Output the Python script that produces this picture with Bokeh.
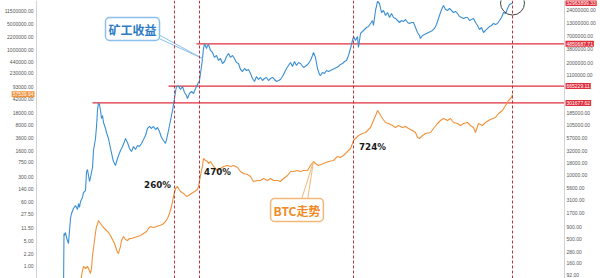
from bokeh.plotting import figure
from bokeh.models import (Range1d, LogScale, LogAxis, FixedTicker,
                          PrintfTickFormatter, Span, Label)
from bokeh.embed import file_html
from bokeh.resources import INLINE

# ---- data -------------------------------------------------------------
# Daily miner revenue (USD), time in decimal years
rev_t = [2010.614, 2010.625, 2010.636, 2010.659, 2010.682, 2010.727, 2010.773, 2010.795,
         2010.841, 2010.886, 2010.932, 2010.955, 2010.977, 2011.0, 2011.045, 2011.068,
         2011.114, 2011.136, 2011.159, 2011.182, 2011.205, 2011.227, 2011.273, 2011.295,
         2011.341, 2011.364, 2011.386, 2011.409, 2011.432, 2011.455, 2011.477, 2011.5,
         2011.523, 2011.568, 2011.591, 2011.636, 2011.682, 2011.727, 2011.75, 2011.795,
         2011.841, 2011.864, 2011.909, 2011.955, 2012.0, 2012.023, 2012.068, 2012.114,
         2012.159, 2012.205, 2012.25, 2012.295, 2012.341, 2012.386, 2012.432, 2012.477,
         2012.523, 2012.568, 2012.614, 2012.659, 2012.705, 2012.75, 2012.795, 2012.841,
         2012.886, 2012.932, 2012.955, 2013.0, 2013.045, 2013.091, 2013.136, 2013.159,
         2013.182, 2013.227, 2013.273, 2013.318, 2013.364, 2013.409, 2013.432, 2013.477,
         2013.523, 2013.568, 2013.614, 2013.659, 2013.705, 2013.75, 2013.773, 2013.795,
         2013.818, 2013.864, 2013.886, 2013.909, 2013.955, 2014.0, 2014.045, 2014.091,
         2014.136, 2014.182, 2014.227, 2014.273, 2014.318, 2014.364, 2014.409, 2014.455,
         2014.5, 2014.545, 2014.591, 2014.636, 2014.682, 2014.727, 2014.773, 2014.818,
         2014.864, 2014.909, 2014.955, 2015.0, 2015.045, 2015.091, 2015.136, 2015.182,
         2015.227, 2015.273, 2015.318, 2015.364, 2015.409, 2015.455, 2015.5, 2015.545,
         2015.591, 2015.636, 2015.682, 2015.727, 2015.773, 2015.818, 2015.864, 2015.909,
         2015.955, 2016.0, 2016.068, 2016.136, 2016.182, 2016.227, 2016.273, 2016.295,
         2016.341, 2016.386, 2016.432, 2016.455, 2016.5, 2016.545, 2016.591, 2016.636,
         2016.682, 2016.727, 2016.773, 2016.818, 2016.864, 2016.909, 2016.955, 2017.0,
         2017.045, 2017.091, 2017.136, 2017.182, 2017.205, 2017.25, 2017.295, 2017.318,
         2017.364, 2017.409, 2017.455, 2017.5, 2017.545, 2017.591, 2017.636, 2017.659,
         2017.705, 2017.75, 2017.795, 2017.841, 2017.886, 2017.932, 2017.977, 2018.023,
         2018.068, 2018.114, 2018.159, 2018.205, 2018.25, 2018.295, 2018.341, 2018.386,
         2018.432, 2018.477, 2018.523, 2018.568, 2018.614, 2018.659, 2018.705, 2018.727,
         2018.773, 2018.818, 2018.864, 2018.909, 2018.955, 2019.0, 2019.045, 2019.091,
         2019.136, 2019.182, 2019.227, 2019.25, 2019.295, 2019.341, 2019.386, 2019.432,
         2019.477, 2019.523, 2019.568, 2019.614, 2019.659, 2019.705, 2019.75, 2019.795,
         2019.841, 2019.886, 2019.932, 2019.977, 2020.023, 2020.068, 2020.114, 2020.159,
         2020.205, 2020.25, 2020.295, 2020.341, 2020.386, 2020.432, 2020.477, 2020.523,
         2020.568, 2020.614, 2020.659, 2020.705, 2020.75, 2020.818]
rev_usd = [45, 653, 594, 684, 541, 408, 1321, 1671,
           2113, 2432, 2018, 2673, 2218, 2938, 3548, 4487,
           4920, 11480, 13210, 9977, 7516, 9078, 14520, 32280,
           56750, 99770, 211300, 301677.62, 280500, 211300, 145200, 167100,
           120200, 90780, 75160, 56750, 35480, 23230, 19230, 15960,
           22180, 25530, 32280, 38900, 49200, 56750, 46990, 35480,
           30760, 38900, 33810, 40830, 38900, 44870, 54080, 65310,
           90780, 99770, 90780, 99770, 86500, 95060, 78890, 59430,
           51640, 44870, 54080, 82600, 132100, 211300, 371500, 516400,
           653100, 665229.11, 567500, 653100, 492000, 427600, 371500, 469900,
           516400, 469900, 594300, 717800, 865000, 1671000, 2432000, 3890000,
           4850687.71, 3890000, 4487000, 4699000, 3548000, 3228000, 2553000, 2805000,
           2218000, 2432000, 1923000, 2113000, 2673000, 3076000, 2553000, 2805000,
           2432000, 2018000, 1923000, 1452000, 1321000, 1521000, 1384000, 1452000,
           1202000, 950600, 826000, 1045000, 907800, 997700, 865000, 950600,
           997700, 865000, 950600, 997700, 907800, 826000, 865000, 907800,
           1045000, 1262000, 1521000, 1750000, 2018000, 1671000, 2113000, 1750000,
           2018000, 1923000, 1596000, 1750000, 1923000, 2218000, 2805000, 3228000,
           2553000, 1521000, 1148000, 1094000, 1262000, 1202000, 1384000, 1321000,
           1384000, 1452000, 1521000, 1596000, 1671000, 1837000, 1923000, 2113000,
           2218000, 2805000, 3890000, 5675000, 6839000, 5675000, 6839000, 4083000,
           7889000, 8650000, 9506000, 10450000, 10940000, 12620000, 14520000, 11480000,
           23230000, 35480000, 32280000, 21130000, 23230000, 18370000, 21130000, 16710000,
           20180000, 16710000, 15960000, 14520000, 13210000, 14520000, 13840000, 15210000,
           13210000, 12620000, 13210000, 13210000, 10450000, 8260000, 7178000, 6223000,
           7178000, 7516000, 7889000, 8260000, 8650000, 9078000, 9977000, 12020000,
           15960000, 21130000, 26730000, 29380000, 24320000, 23230000, 25530000, 23230000,
           21130000, 22180000, 20180000, 17500000, 16710000, 15960000, 16710000, 16710000,
           14520000, 15210000, 15960000, 13210000, 11480000, 9506000, 10450000, 8260000,
           9078000, 9977000, 10940000, 11480000, 12620000, 12020000, 12620000, 14520000,
           16710000, 21130000, 20180000, 25530000, 30760000, 32963899.33]

# BTC price (USD), time in decimal years
btc_t = [2011.0, 2011.023, 2011.068, 2011.114, 2011.159, 2011.182, 2011.227, 2011.25,
         2011.273, 2011.295, 2011.341, 2011.364, 2011.386, 2011.409, 2011.455, 2011.5,
         2011.545, 2011.591, 2011.636, 2011.682, 2011.727, 2011.773, 2011.818, 2011.841,
         2011.864, 2011.909, 2011.932, 2011.977, 2012.023, 2012.068, 2012.114, 2012.159,
         2012.227, 2012.295, 2012.364, 2012.432, 2012.5, 2012.545, 2012.591, 2012.659,
         2012.727, 2012.795, 2012.864, 2012.932, 2012.977, 2013.023, 2013.068, 2013.091,
         2013.114, 2013.159, 2013.205, 2013.227, 2013.273, 2013.341, 2013.409, 2013.455,
         2013.523, 2013.591, 2013.659, 2013.682, 2013.727, 2013.773, 2013.795, 2013.841,
         2013.886, 2013.909, 2013.955, 2014.023, 2014.114, 2014.182, 2014.25, 2014.341,
         2014.409, 2014.477, 2014.568, 2014.636, 2014.705, 2014.795, 2014.864, 2014.932,
         2015.023, 2015.091, 2015.159, 2015.25, 2015.318, 2015.386, 2015.477, 2015.545,
         2015.614, 2015.705, 2015.773, 2015.841, 2015.932, 2016.0, 2016.068, 2016.159,
         2016.227, 2016.295, 2016.341, 2016.409, 2016.523, 2016.636, 2016.75, 2016.841,
         2016.909, 2016.977, 2017.068, 2017.136, 2017.182, 2017.205, 2017.25, 2017.318,
         2017.409, 2017.477, 2017.591, 2017.659, 2017.727, 2017.75, 2017.795, 2017.864,
         2017.932, 2018.0, 2018.091, 2018.159, 2018.227, 2018.318, 2018.386, 2018.455,
         2018.545, 2018.614, 2018.659, 2018.705, 2018.773, 2018.841, 2018.955, 2019.023,
         2019.114, 2019.182, 2019.25, 2019.341, 2019.409, 2019.477, 2019.568, 2019.636,
         2019.705, 2019.795, 2019.864, 2019.932, 2019.977, 2020.045, 2020.136, 2020.205,
         2020.273, 2020.364, 2020.432, 2020.5, 2020.591, 2020.659, 2020.727, 2020.795,
         2020.818]
btc_usd = [0.292, 0.552, 0.982, 0.863, 0.982, 0.863, 0.628, 0.863,
           1.977, 3.09, 8.57, 12.59, 14.29, 18.45, 15.24, 12.59,
           11.07, 9.75, 8.57, 7.08, 5.5, 4.26, 2.9, 2.39,
           2.25, 3.52, 5.15, 6.65, 5.5, 5.15, 5.85, 5.85,
           6.24, 6.65, 7.08, 8.05, 9.14, 11.07, 12.59, 11.8,
           12.59, 13.4, 14.29, 17.3, 20.94, 28.84, 45.08, 61.94,
           85.31, 141.9, 161.4, 141.9, 117.2, 103.3, 85.31, 90.78,
           103.3, 117.2, 133.4, 161.4, 325.1, 615.2, 961.6, 847.2,
           794.3, 699.8, 794.3, 578.1, 447.7, 508.2, 578.1, 615.2,
           578.1, 615.2, 542.0, 419.8, 369.8, 346.7, 305.5, 221.8,
           236.6, 236.6, 268.5, 236.6, 268.5, 236.6, 236.6, 221.8,
           268.5, 325.1, 419.8, 419.8, 447.7, 419.8, 447.7, 447.7,
           615.2, 794.3, 699.8, 615.2, 699.8, 794.3, 847.2, 1094,
           1026, 1164, 1503, 1820, 2506, 3034, 3443, 4169,
           4742, 5047, 6950, 10860, 16980, 20560, 16980, 12330,
           9550, 8974, 7889, 6950, 7889, 6950, 7413, 6516,
           5741, 5047, 3673, 3443, 4169, 4742, 5047, 6516,
           8974, 10860, 12330, 10860, 12330, 9550, 8974, 7889,
           8974, 9550, 7889, 6950, 5047, 8974, 7889, 9550,
           10860, 12330, 13150, 16980, 20560, 28250, 38900, 47100,
           57539.94]

# axis tick values
btc_ticks = [1, 2.2, 5, 11.5, 27.5, 60, 140, 300, 750, 1600, 3600, 8000, 18000,
             42000, 93000, 230000, 440000, 1000000, 2200000, 5000000, 11500000]
rev_ticks = [92, 160, 280, 500, 900, 1700, 3100, 5600, 10000, 18000, 32000, 57000,
             105000, 185000, 1100000, 2000000, 3800000, 7000000, 13000000, 24000000]

# revenue levels reached at earlier cycle tops
level_start = [2011.273, 2013.0, 2013.636]
level_value = [301677.62, 665229.11, 4850687.71]

# cycle markers and BTC gains
cycle_marks = [2013.136, 2013.705, 2017.205, 2020.818]
gain_t = [2012.75, 2014.114, 2017.636]
gain_v = [183, 394, 1941]
gain_text = ["260%", "470%", "724%"]

# ---- styling ----------------------------------------------------------
BLUE = "#3b8fd3"
ORANGE = "#f0923a"
RED = "#e02f3c"
DASH = "#b5323f"
T0, T1 = 2010.0, 2022.0          # span of the time axis
MARGIN = 36 / 44                 # room (in years) for the scale labels on each side

# The frame covers the whole canvas; both value axes are pinned at T0 / T1 so
# the price tags can sit on top of their labels.
p = figure(width=600, height=278, output_backend="svg", toolbar_location=None,
           x_range=Range1d(T0 - MARGIN, T1 + MARGIN), y_range=Range1d(0.456, 22.9e6),
           y_axis_type="log", x_axis_location=None, y_axis_location=None,
           min_border=0, background_fill_color="white", border_fill_color="white")
p.y_scale = LogScale()
p.outline_line_color = None
p.xgrid.visible = False
p.ygrid.visible = False

p.extra_y_ranges = {"rev": Range1d(78.8, 37.15e6)}
p.extra_y_scales = {"rev": LogScale()}


def style_axis(ax):
    ax.formatter = PrintfTickFormatter(format="%.2f")
    ax.axis_line_color = "#d4d4d4"
    ax.major_tick_line_color = None
    ax.minor_tick_line_color = None
    ax.major_tick_out = 0
    ax.major_tick_in = 0
    ax.major_label_text_font = "Liberation Sans"
    ax.major_label_text_font_size = "5px"
    ax.major_label_text_color = "#555555"


left = LogAxis(ticker=FixedTicker(ticks=btc_ticks), fixed_location=T0)
style_axis(left)
left.major_label_standoff = 3
p.add_layout(left, "left")

right = LogAxis(y_range_name="rev", ticker=FixedTicker(ticks=rev_ticks), fixed_location=T1)
style_axis(right)
right.major_label_standoff = 2
p.add_layout(right, "right")

# level lines
p.segment(x0=level_start, x1=[T1] * len(level_start), y0=level_value, y1=level_value,
          line_color=RED, line_width=1.3, y_range_name="rev")

# cycle markers
for t in cycle_marks:
    p.add_layout(Span(location=t, dimension="height", line_color=DASH,
                      line_dash="3 2", line_width=1))

# series
p.line(rev_t, rev_usd, line_color=BLUE, line_width=1.1, y_range_name="rev")
p.line(btc_t, btc_usd, line_color=ORANGE, line_width=1.1)

# ring around the latest revenue value
p.ellipse(x=[rev_t[-1]], y=[rev_usd[-1]], width=24, height=24,
          width_units="screen", height_units="screen",
          fill_color=None, line_color="#444444", line_width=1, y_range_name="rev")

# callout pointers
p.patch(x=[2012.59, 2012.77, rev_t[86]], y=[7.5e6, 7.5e6, rev_usd[86]],
        fill_color="white", line_color="#8cc0ea", line_width=1, y_range_name="rev")
p.patch(x=[2015.98, 2016.14, btc_t[97]], y=[48, 48, btc_usd[97]],
        fill_color="white", line_color="#f2b878", line_width=1)

# callout boxes
p.add_layout(Label(x=2012.182, y=9.73e6, y_range_name="rev", text="矿工收益",
                   text_align="center", text_baseline="middle",
                   text_font="Noto Sans CJK SC", text_font_style="bold",
                   text_font_size="12px", text_color="#2b7cc4",
                   background_fill_color="white", border_line_color="#8cc0ea",
                   border_line_width=1.5, padding=3, border_radius=4))
p.add_layout(Label(x=2015.92, y=36, text="BTC走势",
                   text_align="center", text_baseline="middle",
                   text_font="Noto Sans CJK SC", text_font_style="bold",
                   text_font_size="12px", text_color="#ef8a26",
                   background_fill_color="white", border_line_color="#f2b878",
                   border_line_width=1.5, padding=3, border_radius=4))

# gain annotations
for t, v, s in zip(gain_t, gain_v, gain_text):
    p.add_layout(Label(x=t, y=v, text=s, text_align="center", text_baseline="middle",
                       text_font="DejaVu Sans", text_font_style="bold",
                       text_font_size="8.7px", text_color="#1a1a1a"))

# value tags on the axes
tag_style = dict(text_baseline="middle", text_font="Liberation Sans",
                 text_font_size="5px", text_color="white", padding=1)
for v in level_value + [rev_usd[-1]]:
    p.add_layout(Label(x=T1, y=v, x_offset=1, y_range_name="rev", text=f"{v:.2f}",
                       text_align="left", background_fill_color=RED, **tag_style))
p.add_layout(Label(x=T0, y=btc_usd[-1], x_offset=-2, text=f"{btc_usd[-1]:.2f}",
                   text_align="right", background_fill_color=ORANGE, **tag_style))

open("out.html", "w").write(file_html(p, INLINE))
